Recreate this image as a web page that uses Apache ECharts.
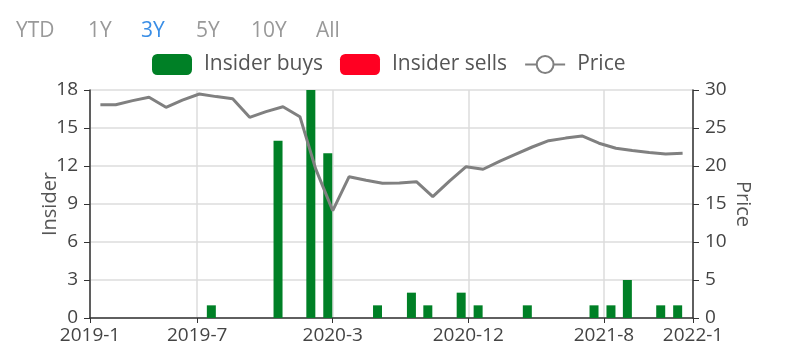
<!DOCTYPE html>
<html>
<head>
<meta charset="utf-8">
<script src="https://cdn.jsdelivr.net/npm/echarts@6/dist/echarts.min.js"></script>
<style>
  html, body { margin: 0; padding: 0; background: #fff; }
  #chart { width: 793px; height: 351px; }
</style>
</head>
<body>
<div id="chart"></div>
<script>
// month-end closing prices
var priceDates = [
  '2019-01-31', '2019-02-28', '2019-03-31', '2019-04-30', '2019-05-31', '2019-06-30',
  '2019-07-31', '2019-08-31', '2019-09-30', '2019-10-31', '2019-11-30', '2019-12-31',
  '2020-01-31', '2020-02-29', '2020-03-31', '2020-04-30', '2020-05-31', '2020-06-30',
  '2020-07-31', '2020-08-31', '2020-09-30', '2020-10-31', '2020-11-30', '2020-12-31',
  '2021-01-31', '2021-02-28', '2021-03-31', '2021-04-30', '2021-05-31', '2021-06-30',
  '2021-07-31', '2021-08-31', '2021-09-30', '2021-10-31', '2021-11-30', '2021-12-31'
];
var priceValues = [
  28.07, 28.07, 28.6, 29.04, 27.72, 28.67,
  29.47, 29.13, 28.86, 26.4, 27.16, 27.8,
  26.49, 19.58, 14.12, 18.59, 18.13, 17.72,
  17.75, 17.93, 15.96, 18.05, 19.91, 19.57,
  20.64, 21.53, 22.5, 23.33, 23.67, 23.95,
  23.0, 22.33, 22.03, 21.78, 21.58, 21.67
];

// insider trades per month
var buyDates = [
  '2019-08-31', '2019-12-31', '2020-02-29', '2020-03-31', '2020-06-30',
  '2020-08-31', '2020-09-30', '2020-11-30', '2020-12-31', '2021-03-31',
  '2021-07-31', '2021-08-31', '2021-09-30', '2021-11-30', '2021-12-31'
];
var buyCounts = [1, 14, 18, 13, 1, 2, 1, 2, 1, 1, 1, 1, 3, 1, 1];
var sellDates = [];
var sellCounts = [];

var rangeButtons = ['YTD', '1Y', '3Y', '5Y', '10Y', 'All'];
var activeRange = '3Y';

var axisStart = '2019-01-12';
var axisEnd = '2022-01-19';
var xTickDates = ['2019-01-12', '2019-07-27', '2020-03-31', '2020-12-04', '2021-08-09', '2022-01-19'];

function ts(s) { return new Date(s + 'T00:00:00').getTime(); }
function zip(a, b) { return a.map(function (d, i) { return [ts(d), b[i]]; }); }

var FONT = 'Open Sans';
var buttonX = [16, 88, 141, 196, 251, 316];

var myChart = echarts.init(document.getElementById('chart'));

var option = {
  animation: false,
  textStyle: { fontFamily: FONT },
  graphic: rangeButtons.map(function (t, i) {
    return {
      type: 'text',
      left: buttonX[i],
      top: 21,
      style: {
        text: t,
        font: '21px "' + FONT + '"',
        fill: t === activeRange ? '#3a8ee6' : '#999'
      }
    };
  }),
  legend: {
    left: 147,
    top: 49,
    itemWidth: 40,
    itemHeight: 21,
    itemGap: 17,
    textStyle: { fontSize: 21, color: '#555', fontFamily: FONT, padding: [0, 0, 0, 7] },
    data: ['Insider buys', 'Insider sells', 'Price']
  },
  grid: { left: 90, right: 100, top: 90, bottom: 33, outerBoundsMode: 'none' },
  xAxis: {
    type: 'value',
    min: ts(axisStart),
    max: ts(axisEnd),
    axisLine: { lineStyle: { color: '#333', width: 1.5 } },
    axisTick: { show: true, length: 5, lineStyle: { color: '#333' }, customValues: xTickDates.map(ts) },
    axisLabel: {
      customValues: xTickDates.map(ts),
      fontSize: 19,
      color: '#444',
      margin: 8,
      formatter: function (v) {
        var d = new Date(v);
        return d.getFullYear() + '-' + (d.getMonth() + 1);
      }
    },
    splitLine: { show: true, lineStyle: { color: '#ddd', width: 1.5 } }
  },
  yAxis: [
    {
      type: 'value',
      name: 'Insider',
      nameLocation: 'middle',
      nameGap: 30,
      nameMoveOverlap: false,
      nameTextStyle: { fontSize: 20, color: '#555' },
      min: 0,
      max: 18,
      interval: 3,
      axisLine: { show: true, lineStyle: { color: '#333', width: 1.5 } },
      axisTick: { show: true, length: 6, lineStyle: { color: '#333' } },
      axisLabel: { fontSize: 19, color: '#444', margin: 12 },
      splitLine: { lineStyle: { color: '#ddd', width: 1.5 } }
    },
    {
      type: 'value',
      name: 'Price',
      nameLocation: 'middle',
      nameRotate: -90,
      nameGap: 40,
      nameMoveOverlap: false,
      nameTextStyle: { fontSize: 20, color: '#555' },
      min: 0,
      max: 30,
      interval: 5,
      axisLine: { show: true, lineStyle: { color: '#333', width: 1.5 } },
      axisTick: { show: true, length: 6, lineStyle: { color: '#333' } },
      axisLabel: { fontSize: 19, color: '#444', margin: 12 },
      splitLine: { show: false }
    }
  ],
  series: [
    {
      name: 'Insider buys',
      type: 'bar',
      barWidth: 9,
      itemStyle: { color: '#008026' },
      data: zip(buyDates, buyCounts)
    },
    {
      name: 'Insider sells',
      type: 'bar',
      barWidth: 9,
      itemStyle: { color: '#ff0022' },
      data: zip(sellDates, sellCounts)
    },
    {
      name: 'Price',
      type: 'line',
      yAxisIndex: 1,
      symbol: 'emptyCircle',
      showSymbol: false,
      lineStyle: { color: '#808080', width: 3 },
      itemStyle: { color: '#808080' },
      data: zip(priceDates, priceValues)
    }
  ]
};

myChart.setOption(option);
</script>
</body>
</html>
